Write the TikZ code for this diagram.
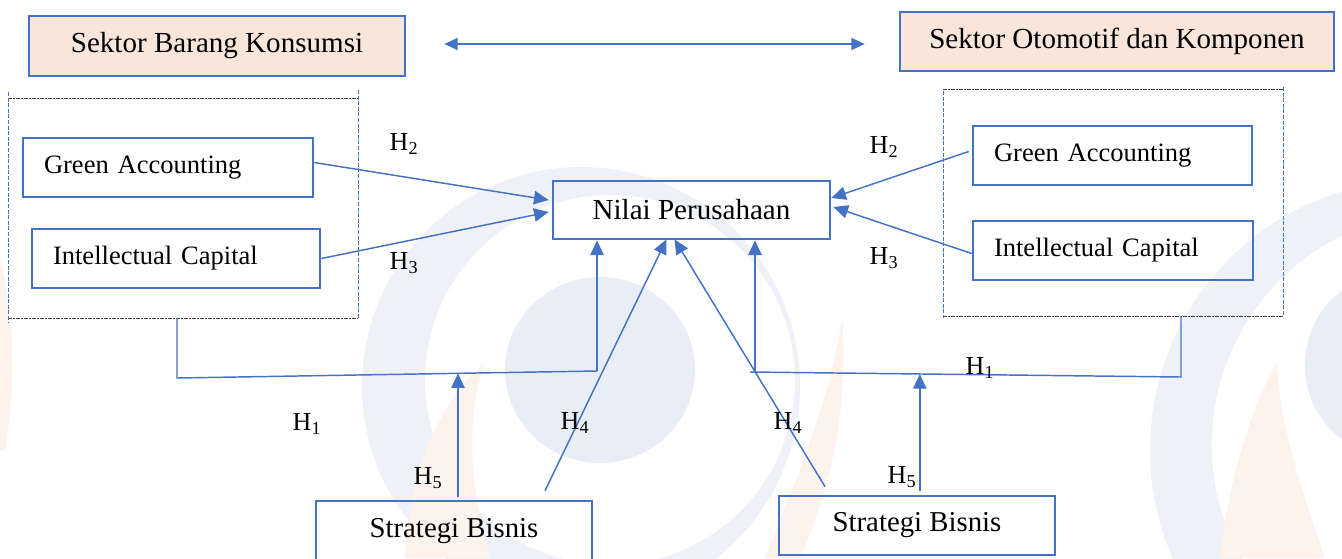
\documentclass[tikz,border=0pt]{standalone}
\usepackage{fontspec}
\setmainfont{Liberation Serif}
\usetikzlibrary{arrows.meta,calc}
\definecolor{lnblue}{HTML}{4472C4}
\definecolor{peach}{HTML}{FAE5DA}
\definecolor{wmblue}{HTML}{EEF2F8}
\definecolor{wmblob}{HTML}{E9EEF6}
\definecolor{wmorange}{HTML}{FDF2EC}
\tikzset{
  box/.style={draw=lnblue, line width=2pt, rectangle, inner sep=0pt, text=black},
  secbox/.style={box, fill=peach, font=\fontsize{21.8pt}{24pt}\selectfont},
  sbbox/.style={box, font=\fontsize{21.6pt}{24pt}\selectfont, minimum width=207pt},
  varbox/.style={box, inner xsep=15.75pt, inner ysep=0pt, align=left, minimum height=44.25pt, font=\fontsize{19.9pt}{22pt}\selectfont},
  grp/.style={rectangle, inner sep=0pt, outer sep=0pt},
  conn/.style={draw=lnblue, line width=1.1pt},
  arr/.style={conn, -{Triangle[length=11pt,width=10pt]}},
  darr/.style={conn, {Triangle[length=10pt,width=9pt]}-{Triangle[length=10pt,width=9pt]}},
  hlab/.style={font=\fontsize{19.5pt}{22pt}\selectfont, inner sep=0pt, text=black},
  grpH/.style={draw=black!75, line width=0.6pt, dash pattern=on 3pt off 1pt on 1pt off 1pt},
  grpV/.style={draw=lnblue, line width=0.6pt, dash pattern=on 3pt off 1.2pt},
}
\begin{document}
\begin{tikzpicture}[x=0.75pt, y=-0.75pt]
\useasboundingbox (0,0) rectangle (1342,558);
\begin{scope}
  \clip (0,0) rectangle (1342,558);
  % watermark (faint logo)
  \fill[wmblue, even odd rule] (581,386) circle [radius=164.25pt] (610,380) circle [radius=138.75pt];
  \fill[wmblob] (600,370) ellipse [x radius=71.25pt, y radius=69.75pt];
  \fill[wmorange] (405,558) .. controls (410,470) and (440,400) .. (485,362) .. controls (465,420) and (470,490) .. (490,558) -- cycle;
  \fill[wmorange] (765,558) .. controls (800,470) and (830,400) .. (842,318) .. controls (848,400) and (835,480) .. (800,558) -- cycle;
  \fill[wmblue, even odd rule] (1420,450) circle [radius=202.5pt] (1445,445) circle [radius=175pt];
  \fill[wmblob] (1385,365) ellipse [x radius=60pt, y radius=66pt];
  \fill[wmorange] (1220,558) .. controls (1230,470) and (1255,400) .. (1277,362) .. controls (1280,430) and (1305,500) .. (1325,558) -- cycle;
  \fill[wmorange] (0,260) .. controls (12,300) and (18,380) .. (5,450) -- (0,450) -- cycle;
\end{scope}

% sector boxes
\node[secbox, minimum width=282pt, minimum height=45pt] (sbk) at (217,46) {Sektor Barang Konsumsi};
\node[secbox, minimum width=325.5pt, minimum height=44.25pt] (soto) at (1117,41.5) {Sektor Otomotif dan Komponen};
\coordinate (da) at ($(sbk.east)+(38,-2)$);
\coordinate (db) at ($(soto.west)+(-34,2.5)$);
\draw[darr] (da) -- (db);

% groups
\node[grp, minimum width=262.5pt, minimum height=165pt] (lgrp) at (183,208) {};
\node[grp, minimum width=255pt, minimum height=170.25pt] (rgrp) at (1113,202.5) {};
\draw[grpH] (lgrp.north west) -- (lgrp.north east);
\draw[grpH] (lgrp.south west) -- (lgrp.south east);
\draw[grpV] ($(lgrp.north west)+(0,-6)$) -- ($(lgrp.south west)+(0,4)$);
\draw[grpV] ($(lgrp.north east)+(0,-8)$) -- (lgrp.south east);
\draw[grpH] (rgrp.north west) -- (rgrp.north east);
\draw[grpH] (rgrp.south west) -- (rgrp.south east);
\draw[grpV] ($(rgrp.north west)+(0,2)$) -- ($(rgrp.south west)+(0,2)$);
\draw[grpV] ($(rgrp.north east)+(0,-2)$) -- (rgrp.south east);

% variable boxes
\node[varbox, text width=186pt] (gaL) at (168,167.5) {Green Accounting};
\node[varbox, text width=184.5pt] (icL) at (176,258.5) {Intellectual Capital};
\node[varbox, text width=177.75pt] (gaR) at (1112.5,155.5) {Green Accounting};
\node[varbox, text width=178.5pt] (icR) at (1113,250.5) {Intellectual Capital};

% central box
\node[box, font=\fontsize{21.8pt}{24pt}\selectfont, minimum width=207.75pt, minimum height=43.5pt] (nilai) at (691.5,210) {Nilai Perusahaan};

% strategy boxes
\node[sbbox, minimum height=45pt] (sb1) at (454,531) {Strategi Bisnis};
\node[sbbox, minimum height=44.25pt] (sb2) at (917,525.5) {Strategi Bisnis};

% arrows into Nilai
\draw[arr] ($(gaL.east)+(0,-5)$) -- ($(nilai.west)+(-3,-10)$);
\draw[arr] (icL.east) -- ($(nilai.west)+(-3,2)$);
\draw[arr] ($(gaR.west)+(-3,-4)$) -- ($(nilai.east)+(0,-12)$);
\draw[arr] ($(icR.west)+(0,3)$) -- ($(nilai.east)+(2,-3)$);

% H1 paths
\coordinate (lj) at (177,378);
\coordinate (lk) at (597,371);
\draw[conn] (lgrp.south -| lj) -- (lj) -- (lk);
\draw[arr] (lk) -- (lk |- nilai.south);
\coordinate (rj) at (1181,377);
\coordinate (rk) at (750,372);
\coordinate (rv) at (755,372);
\draw[conn] (rgrp.south -| rj) -- (rj) -- (rk);
\draw[arr] (rv) -- (rv |- nilai.south);

% H5 arrows
\coordinate (pl) at ($(lj)!0.669!(lk)$);
\draw[arr] ($(sb1.north -| pl)+(0,-3)$) -- (pl);
\coordinate (pr) at ($(rj)!0.606!(rk)$);
\draw[arr] ($(sb2.north -| pr)+(0,-4)$) -- (pr);

% H4 arrows
\draw[arr] ($(sb1.north)+(91,-9)$) -- ($(nilai.south)+(-25,-1)$);
\draw[arr] ($(sb2.north)+(-92,-8)$) -- ($(nilai.south)+(-17,-1)$);

% labels
\node[hlab] (lh2l) at (404,144) {H\textsubscript{2}};
\node[hlab] (lh3l) at (404,263) {H\textsubscript{3}};
\node[hlab] (lh2r) at (884,147) {H\textsubscript{2}};
\node[hlab] (lh3r) at (884,258) {H\textsubscript{3}};
\node[hlab] (lh1r) at (980,368) {H\textsubscript{1}};
\node[hlab] (lh1l) at (307,424) {H\textsubscript{1}};
\node[hlab] (lh4l) at (575,423) {H\textsubscript{4}};
\node[hlab] (lh4r) at (788,423) {H\textsubscript{4}};
\node[hlab] (lh5l) at (428,478) {H\textsubscript{5}};
\node[hlab] (lh5r) at (902,477) {H\textsubscript{5}};
\end{tikzpicture}
\end{document}
